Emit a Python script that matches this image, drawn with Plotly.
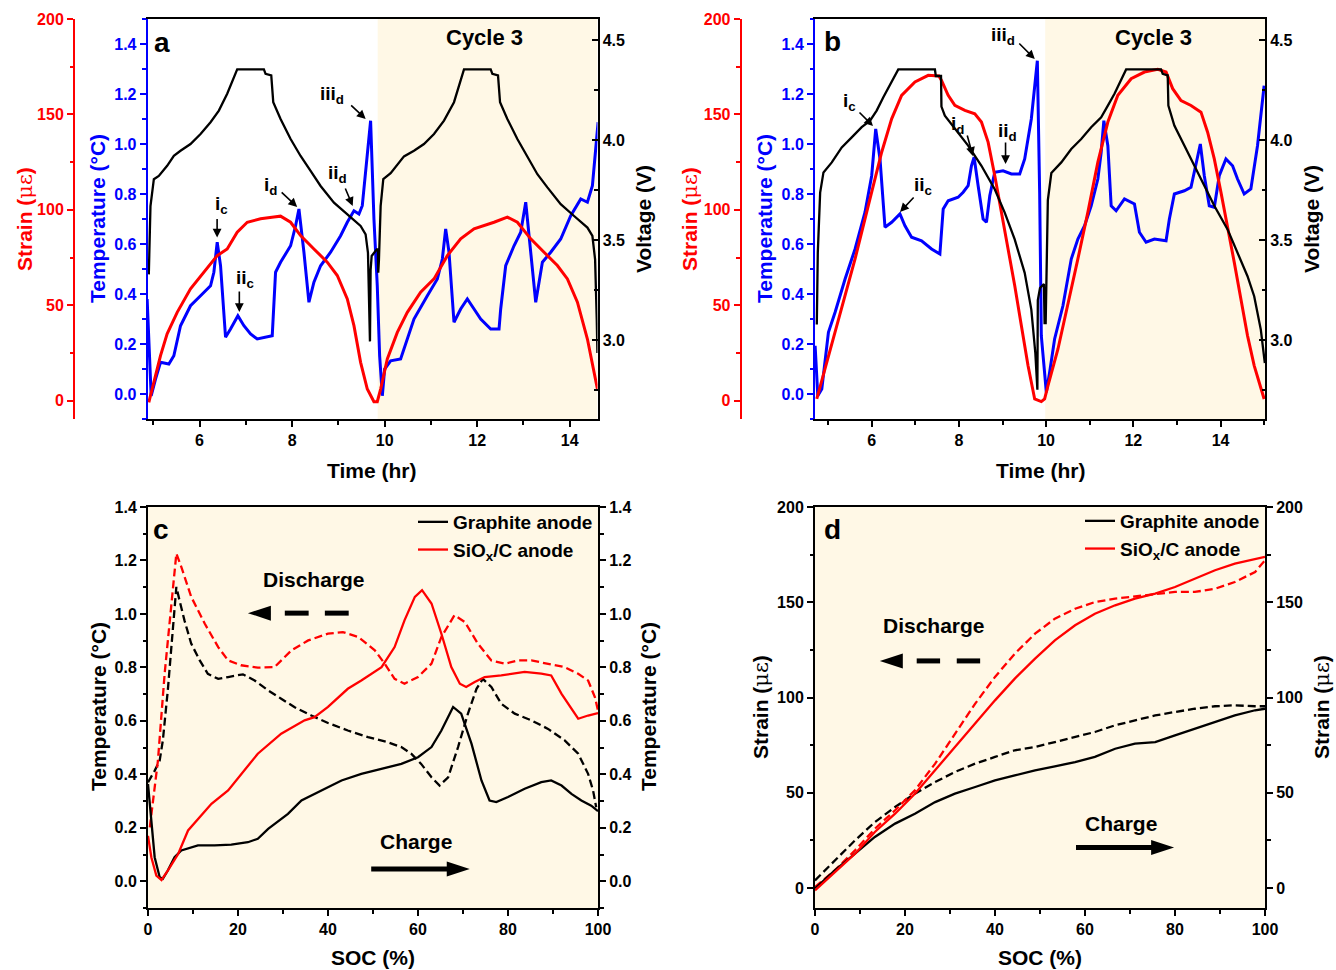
import plotly.graph_objects as go

# ---------------- data ----------------
# Panel a (graphite anode): (time hr, value)
A_VOLT = [(4.904, 3.328), (4.915, 3.50), (4.94, 3.67), (5.013, 3.804), (5.12, 3.82), (5.30, 3.871),
          (5.445, 3.921), (5.589, 3.946), (5.805, 3.98), (6.022, 4.03), (6.238, 4.089), (6.418, 4.147),
          (6.598, 4.231), (6.814, 4.353), (7.391, 4.353), (7.427, 4.331), (7.55, 4.323), (7.593, 4.189),
          (7.751, 4.105), (7.968, 4.005), (8.184, 3.92), (8.40, 3.846), (8.616, 3.77), (8.905, 3.687),
          (9.193, 3.629), (9.481, 3.57), (9.589, 3.528), (9.64, 3.436), (9.683, 2.993), (9.697, 3.35),
          (9.72, 3.42), (9.77, 3.436), (9.83, 3.453), (9.856, 3.453), (9.862, 3.336), (9.877, 3.40),
          (9.914, 3.67), (9.971, 3.804), (10.13, 3.834), (10.418, 3.918), (10.634, 3.946), (10.85, 3.98),
          (11.067, 4.03), (11.283, 4.097), (11.499, 4.189), (11.715, 4.353), (12.292, 4.353), (12.328, 4.331),
          (12.45, 4.323), (12.494, 4.189), (12.652, 4.105), (12.868, 4.005), (13.085, 3.913), (13.301, 3.829),
          (13.517, 3.763), (13.805, 3.679), (14.094, 3.62), (14.382, 3.562), (14.49, 3.52), (14.548, 3.403),
          (14.584, 3.10), (14.598, 2.935)]
A_STRAIN = [(4.904, -0.9), (5.013, 9.6), (5.157, 23.6), (5.30, 35.0), (5.517, 46.3), (5.805, 58.6),
            (6.094, 67.3), (6.382, 76.0), (6.598, 79.5), (6.814, 88.3), (7.031, 93.5), (7.319, 95.3),
            (7.607, 96.2), (7.751, 96.7), (7.968, 93.5), (8.184, 86.5), (8.472, 79.5), (8.76, 72.6),
            (8.977, 65.6), (9.193, 53.3), (9.337, 39.3), (9.481, 20.1), (9.625, 6.1), (9.769, -0.5),
            (9.841, -0.5), (9.914, 6.1), (10.058, 21.9), (10.274, 35.8), (10.49, 46.3), (10.778, 56.8),
            (11.067, 63.8), (11.355, 76.0), (11.643, 84.8), (11.932, 90.0), (12.364, 93.5), (12.652, 96.2),
            (12.868, 93.5), (13.157, 84.8), (13.445, 77.8), (13.733, 70.8), (13.95, 63.8), (14.166, 51.6),
            (14.382, 32.3), (14.598, 6.1)]
A_TEMP = [(4.868, 0.38), (4.955, -0.007), (5.049, 0.06), (5.157, 0.127), (5.337, 0.12), (5.445, 0.153),
          (5.589, 0.273), (5.805, 0.353), (6.022, 0.393), (6.166, 0.42), (6.238, 0.433), (6.31, 0.487),
          (6.382, 0.607), (6.454, 0.513), (6.562, 0.227), (6.67, 0.26), (6.829, 0.313), (6.959, 0.273),
          (7.103, 0.24), (7.247, 0.22), (7.463, 0.227), (7.571, 0.233), (7.643, 0.487), (7.751, 0.527),
          (7.968, 0.593), (8.076, 0.673), (8.148, 0.74), (8.256, 0.567), (8.364, 0.367), (8.472, 0.447),
          (8.616, 0.513), (8.832, 0.567), (9.049, 0.633), (9.193, 0.687), (9.337, 0.733), (9.445, 0.72),
          (9.517, 0.753), (9.625, 0.967), (9.697, 1.093), (9.769, 0.70), (9.841, 0.433), (9.892, 0.153),
          (9.95, -0.007), (10.0, 0.10), (10.13, 0.133), (10.346, 0.14), (10.634, 0.30), (10.923, 0.393),
          (11.139, 0.46), (11.247, 0.54), (11.319, 0.66), (11.391, 0.567), (11.499, 0.287), (11.643, 0.34),
          (11.787, 0.38), (11.932, 0.34), (12.076, 0.30), (12.292, 0.26), (12.472, 0.26), (12.508, 0.34),
          (12.616, 0.513), (12.796, 0.593), (12.941, 0.647), (13.049, 0.767), (13.157, 0.567), (13.265, 0.367),
          (13.409, 0.527), (13.589, 0.567), (13.805, 0.62), (14.022, 0.713), (14.238, 0.78), (14.382, 0.767),
          (14.49, 0.833), (14.613, 1.087)]

# Panel b (SiOx/C anode)
B_VOLT = [(4.741, 3.077), (4.764, 3.436), (4.818, 3.737), (4.894, 3.838), (5.085, 3.888), (5.313, 3.963),
          (5.542, 4.013), (5.771, 4.064), (5.962, 4.097), (6.114, 4.147), (6.267, 4.214), (6.42, 4.273),
          (6.61, 4.353), (7.45, 4.353), (7.47, 4.32), (7.59, 4.32), (7.60, 4.167), (7.678, 4.122),
          (7.907, 4.055), (8.212, 3.972), (8.517, 3.871), (8.822, 3.754), (9.051, 3.637), (9.28, 3.503),
          (9.509, 3.336), (9.661, 3.152), (9.753, 2.935), (9.80, 2.751), (9.81, 3.20), (9.86, 3.26),
          (9.95, 3.28), (9.965, 3.085), (9.99, 3.085), (10.04, 3.70), (10.12, 3.835), (10.348, 3.888),
          (10.577, 3.955), (10.805, 4.005), (11.034, 4.064), (11.263, 4.114), (11.416, 4.172), (11.568, 4.231),
          (11.835, 4.353), (12.636, 4.353), (12.674, 4.331), (12.789, 4.323), (12.804, 4.172), (12.941, 4.072),
          (13.17, 3.972), (13.399, 3.871), (13.628, 3.771), (13.857, 3.671), (14.162, 3.553), (14.39, 3.436),
          (14.619, 3.319), (14.772, 3.219), (14.924, 3.052), (15.016, 2.885)]
B_STRAIN = [(4.741, 0.9), (5.008, 23.6), (5.313, 48.1), (5.619, 74.3), (5.924, 102.3), (6.229, 130.2),
            (6.458, 147.7), (6.686, 160.0), (6.992, 167.0), (7.297, 170.5), (7.541, 170.1), (7.602, 167.8),
            (7.754, 160.0), (7.907, 154.7), (8.136, 152.1), (8.365, 150.3), (8.517, 146.0), (8.67, 135.5),
            (8.822, 118.0), (8.975, 98.8), (9.127, 81.3), (9.28, 60.3), (9.433, 39.3), (9.585, 18.4),
            (9.738, 0.9), (9.89, -0.5), (9.966, 0.9), (10.043, 7.9), (10.272, 27.1), (10.5, 49.8),
            (10.729, 74.3), (10.958, 98.8), (11.187, 125.0), (11.416, 146.0), (11.645, 160.0), (11.95, 168.7),
            (12.255, 172.2), (12.56, 173.6), (12.751, 172.2), (12.903, 163.5), (13.094, 157.3), (13.323, 154.7),
            (13.552, 151.2), (13.704, 140.7), (13.857, 126.7), (14.009, 109.3), (14.162, 91.8), (14.314, 72.6),
            (14.467, 53.3), (14.619, 34.1), (14.772, 18.4), (15.0, 0.9)]
B_TEMP = [(4.703, 0.193), (4.764, -0.007), (4.856, 0.02), (5.008, 0.247), (5.161, 0.327), (5.39, 0.46),
          (5.619, 0.58), (5.847, 0.727), (6.0, 0.873), (6.092, 1.06), (6.191, 0.94), (6.305, 0.667),
          (6.458, 0.687), (6.648, 0.72), (6.763, 0.673), (6.915, 0.627), (7.144, 0.613), (7.373, 0.58),
          (7.564, 0.56), (7.64, 0.74), (7.754, 0.773), (7.983, 0.787), (8.098, 0.807), (8.212, 0.833),
          (8.288, 0.913), (8.349, 0.947), (8.441, 0.833), (8.555, 0.70), (8.632, 0.687), (8.708, 0.793),
          (8.822, 0.887), (9.013, 0.893), (9.204, 0.88), (9.394, 0.88), (9.509, 0.94), (9.661, 1.10),
          (9.799, 1.333), (9.852, 0.807), (9.89, 0.233), (9.951, 0.113), (10.005, 0.007), (10.081, 0.087),
          (10.195, 0.22), (10.386, 0.353), (10.577, 0.54), (10.729, 0.62), (10.882, 0.673), (11.034, 0.753),
          (11.187, 0.86), (11.263, 0.967), (11.324, 1.093), (11.416, 0.993), (11.492, 0.753), (11.606, 0.733),
          (11.797, 0.78), (12.026, 0.76), (12.14, 0.647), (12.293, 0.607), (12.484, 0.62), (12.751, 0.613),
          (12.827, 0.70), (12.941, 0.80), (13.17, 0.813), (13.323, 0.827), (13.437, 0.913), (13.537, 1.0),
          (13.628, 0.873), (13.742, 0.753), (13.857, 0.747), (13.971, 0.873), (14.124, 0.94), (14.276, 0.913),
          (14.39, 0.86), (14.543, 0.80), (14.696, 0.82), (14.848, 0.993), (15.0, 1.233)]

# Panel c: (SOC %, temperature change)
C_GR_CH = [(0, 0.364), (0.74, 0.215), (1.48, 0.09), (2.6, 0.015), (3.3, 0.009), (4.4, 0.04), (5.9, 0.09),
           (7.4, 0.115), (11.1, 0.134), (14.8, 0.134), (18.5, 0.137), (22.2, 0.146), (24.4, 0.159),
           (26.7, 0.196), (31.1, 0.252), (34.1, 0.302), (38.5, 0.34), (43.0, 0.377), (47.4, 0.402),
           (51.9, 0.421), (56.3, 0.439), (60.0, 0.464), (63.0, 0.502), (65.2, 0.564), (67.8, 0.652),
           (69.6, 0.627), (71.9, 0.514), (74.1, 0.377), (75.9, 0.302), (77.4, 0.296), (80.0, 0.315),
           (83.7, 0.346), (87.4, 0.371), (89.6, 0.377), (91.9, 0.358), (94.1, 0.327), (96.3, 0.302),
           (98.5, 0.283), (100, 0.262)]
C_GR_DIS = [(0, 0.37), (1.5, 0.414), (2.6, 0.452), (3.3, 0.527), (4.4, 0.714), (5.6, 0.964), (6.3, 1.101),
            (7.0, 1.051), (8.1, 0.976), (9.6, 0.889), (11.5, 0.826), (13.3, 0.776), (15.6, 0.757),
            (17.8, 0.764), (21.1, 0.774), (23.7, 0.751), (26.7, 0.714), (29.6, 0.683), (32.6, 0.651),
            (36.3, 0.62), (40.0, 0.592), (44.4, 0.564), (48.9, 0.539), (53.3, 0.52), (56.3, 0.502),
            (58.5, 0.477), (60.7, 0.439), (63.0, 0.389), (64.8, 0.358), (66.7, 0.389), (68.9, 0.502),
            (71.1, 0.627), (73.0, 0.72), (74.4, 0.757), (76.3, 0.727), (78.5, 0.664), (81.5, 0.627),
            (85.2, 0.602), (88.9, 0.57), (92.6, 0.527), (95.6, 0.477), (97.8, 0.402), (98.9, 0.34),
            (99.6, 0.277)]
C_SI_CH = [(0, 0.17), (0.74, 0.09), (1.85, 0.021), (3.0, 0.005), (4.4, 0.04), (6.7, 0.102), (8.9, 0.19),
           (11.1, 0.233), (14.1, 0.29), (17.8, 0.34), (20.7, 0.402), (24.4, 0.477), (29.6, 0.552),
           (34.8, 0.602), (37.0, 0.614), (40.0, 0.652), (44.4, 0.72), (47.4, 0.751), (51.9, 0.801),
           (54.8, 0.876), (57.0, 0.976), (59.3, 1.064), (60.9, 1.089), (63.0, 1.039), (65.2, 0.926),
           (67.4, 0.801), (69.3, 0.739), (70.7, 0.727), (72.6, 0.745), (74.8, 0.764), (78.5, 0.77),
           (83.7, 0.783), (87.4, 0.777), (89.6, 0.77), (91.9, 0.701), (94.1, 0.645), (95.6, 0.608),
           (97.8, 0.62), (100, 0.629)]
C_SI_DIS = [(0.4, 0.202), (2.2, 0.45), (3.7, 0.777), (5.2, 1.027), (6.3, 1.226), (7.4, 1.176), (9.6, 1.064),
            (12.6, 0.964), (15.6, 0.876), (17.8, 0.826), (20.7, 0.808), (24.4, 0.799), (28.1, 0.801),
            (31.9, 0.864), (35.6, 0.901), (40.0, 0.926), (43.3, 0.932), (46.7, 0.914), (50.4, 0.864),
            (52.6, 0.814), (54.8, 0.757), (57.0, 0.739), (60.0, 0.764), (63.0, 0.814), (65.2, 0.914),
            (68.1, 0.995), (70.4, 0.97), (73.3, 0.889), (76.3, 0.826), (79.3, 0.814), (82.2, 0.826),
            (85.2, 0.826), (88.9, 0.814), (92.6, 0.801), (95.6, 0.776), (97.8, 0.751), (99.3, 0.689),
            (100, 0.639)]

# Panel d: (SOC %, strain)
D_GR_CH = [(0, -0.3), (4.4, 9.3), (8.9, 18.0), (13.3, 26.8), (17.8, 33.8), (22.2, 39.0), (26.7, 45.1),
           (31.1, 49.5), (35.6, 53.0), (40.0, 56.5), (44.4, 59.1), (48.9, 61.8), (53.3, 63.9), (57.8, 66.1),
           (62.2, 68.8), (66.7, 73.1), (71.1, 75.8), (75.6, 76.6), (80.0, 80.1), (84.4, 83.6), (88.9, 87.1),
           (93.3, 90.6), (97.8, 93.3), (100, 94.1)]
D_GR_DIS = [(0, 4.0), (4.4, 14.5), (8.9, 25.0), (13.3, 34.6), (17.8, 42.5), (22.2, 49.5), (26.7, 55.6),
            (31.1, 60.9), (35.6, 65.3), (40.0, 68.8), (44.4, 72.3), (48.9, 74.0), (53.3, 76.6), (57.8, 79.3),
            (62.2, 81.9), (66.7, 85.4), (71.1, 88.0), (75.6, 90.6), (80.0, 92.4), (84.4, 94.1), (88.9, 95.4),
            (93.3, 95.9), (97.8, 95.4), (100, 95.4)]
D_SI_CH = [(0, -1.2), (4.4, 8.4), (8.9, 18.0), (13.3, 29.4), (17.8, 39.0), (22.2, 49.5), (26.7, 61.8),
           (31.1, 74.0), (35.6, 86.3), (40.0, 98.5), (44.4, 109.9), (48.9, 120.4), (53.3, 130.0),
           (57.8, 137.9), (62.2, 144.0), (66.7, 148.4), (71.1, 151.9), (75.6, 154.5), (80.0, 158.0),
           (84.4, 162.4), (88.9, 166.8), (93.3, 170.3), (97.8, 172.9), (100, 173.8)]
D_SI_DIS = [(0, 0.5), (4.4, 9.3), (8.9, 19.8), (13.3, 31.1), (17.8, 40.8), (22.2, 51.3), (26.7, 65.3),
            (31.1, 81.0), (35.6, 96.8), (40.0, 110.8), (44.4, 123.0), (48.9, 133.5), (53.3, 141.4),
            (57.8, 146.6), (62.2, 150.1), (66.7, 151.9), (71.1, 153.1), (75.6, 154.2), (80.0, 155.4),
            (84.4, 155.4), (88.9, 157.1), (93.3, 160.6), (97.8, 165.9), (100, 172.0)]

CYCLE3_START_A = 9.85
CYCLE3_START_B = 9.98
XRANGE_A = [4.88, 14.6]
XRANGE_B = [4.70, 15.02]

# ---------------- styling ----------------
FONT = "Liberation Sans, Arial, Helvetica, sans-serif"
RED, BLUE, BLACK = "#FF0000", "#0000FF", "#000000"
CREAM = "#FFF8E6"
W, H = 1336, 970


def px2x(px):
    return px / W


def py2y(py):
    return 1 - py / H


def xy(pairs):
    return [p[0] for p in pairs], [p[1] for p in pairs]


def ax_style(color, dtick, minor_dtick, ticks="outside", fmt=None, **kw):
    d = dict(showline=True, linecolor=color, linewidth=2, ticks=ticks, ticklen=6, tickwidth=2,
             tickcolor=color, tickfont=dict(family=FONT, size=16, color=color, weight="bold"),
             showgrid=False, zeroline=False, dtick=dtick, tick0=0, automargin=False,
             minor=dict(dtick=minor_dtick, ticks=ticks, ticklen=3.5, tickwidth=1.5, tickcolor=color,
                        showgrid=False))
    if fmt:
        d["tickformat"] = fmt
    d.update(kw)
    return d


fig = go.Figure()


def line(pairs, xa, ya, color, width=3, dash="solid", name=None, legend=None):
    x, y = xy(pairs)
    tr = dict(x=x, y=y, xaxis=xa, yaxis=ya, mode="lines",
              line=dict(color=color, width=width, dash=dash), hoverinfo="skip",
              showlegend=name is not None)
    if name is not None:
        tr["name"] = name
        tr["legend"] = legend
    fig.add_trace(go.Scatter(**tr))


# Panel a
line(A_TEMP, "x", "y", BLUE)
line(A_STRAIN, "x", "y2", RED)
line(A_VOLT, "x", "y3", BLACK, width=2.3)
# Panel b
line(B_TEMP, "x2", "y4", BLUE)
line(B_STRAIN, "x2", "y5", RED)
line(B_VOLT, "x2", "y6", BLACK, width=2.3)
# Panel c
DASH = "8px,4px"
line(C_GR_DIS, "x3", "y7", BLACK, 2.3, DASH)
line(C_SI_DIS, "x3", "y7", RED, 2.3, DASH)
line(C_GR_CH, "x3", "y7", BLACK, 2.3, name="Graphite anode", legend="legend")
line(C_SI_CH, "x3", "y7", RED, 2.3, name="SiO<sub>x</sub>/C anode", legend="legend")
# Panel d
line(D_GR_DIS, "x4", "y9", BLACK, 2.3, DASH)
line(D_SI_DIS, "x4", "y9", RED, 2.3, DASH)
line(D_GR_CH, "x4", "y9", BLACK, 2.3, name="Graphite anode", legend="legend2")
line(D_SI_CH, "x4", "y9", RED, 2.3, name="SiO<sub>x</sub>/C anode", legend="legend2")
# invisible traces so the mirrored right axes of c and d are drawn
for pairs, xa, ya in [(C_GR_CH, "x3", "y8"), (D_GR_CH, "x4", "y10")]:
    x, y = xy(pairs)
    fig.add_trace(go.Scatter(x=x, y=y, xaxis=xa, yaxis=ya, mode="lines", opacity=0,
                             line=dict(width=0), showlegend=False, hoverinfo="skip"))

TOP_DOM = [py2y(419), py2y(19)]
BOT_DOM = [py2y(908), py2y(507)]
XA_DOM = [px2x(147.7), px2x(597.5)]
XB_DOM = [px2x(815), px2x(1265)]
XC_DOM = [px2x(148), px2x(598)]

LEG_FONT = dict(family=FONT, size=19, color="black", weight="bold")
layout = dict(
    width=W, height=H, margin=dict(l=0, r=0, t=0, b=0),
    paper_bgcolor="white", plot_bgcolor="white",
    font=dict(family=FONT, color="black"),
    xaxis=ax_style(BLACK, 2, 1, domain=XA_DOM, range=XRANGE_A, anchor="y", mirror=True),
    yaxis=ax_style(BLUE, 0.2, 0.1, fmt=".1f", domain=TOP_DOM, range=[-0.1, 1.5], anchor="x"),
    yaxis2=ax_style(RED, 50, 25, overlaying="y", anchor="free", position=px2x(74), range=[-9.6, 200]),
    yaxis3=ax_style(BLACK, 0.5, 0.25, ticks="inside", fmt=".1f", overlaying="y", side="right",
                    anchor="x", range=[2.605, 4.605]),
    xaxis2=ax_style(BLACK, 2, 1, domain=XB_DOM, range=XRANGE_B, anchor="y4", mirror=True),
    yaxis4=ax_style(BLUE, 0.2, 0.1, fmt=".1f", domain=TOP_DOM, range=[-0.1, 1.5], anchor="x2"),
    yaxis5=ax_style(RED, 50, 25, overlaying="y4", anchor="free", position=px2x(740.7), range=[-9.6, 200]),
    yaxis6=ax_style(BLACK, 0.5, 0.25, ticks="inside", fmt=".1f", overlaying="y4", side="right",
                    anchor="x2", range=[2.605, 4.605]),
    xaxis3=ax_style(BLACK, 20, 10, domain=XC_DOM, range=[0, 100], anchor="y7", mirror=True),
    yaxis7=ax_style(BLACK, 0.2, 0.1, fmt=".1f", domain=BOT_DOM, range=[-0.1, 1.4], anchor="x3"),
    yaxis8=ax_style(BLACK, 0.2, 0.1, fmt=".1f", overlaying="y7", side="right", anchor="x3",
                    range=[-0.1, 1.4]),
    xaxis4=ax_style(BLACK, 20, 10, domain=XB_DOM, range=[0, 100], anchor="y9", mirror=True),
    yaxis9=ax_style(BLACK, 50, 25, domain=BOT_DOM, range=[-10.5, 200], anchor="x4"),
    yaxis10=ax_style(BLACK, 50, 25, overlaying="y9", side="right", anchor="x4", range=[-10.5, 200]),
    legend=dict(x=px2x(413), y=py2y(503), xanchor="left", yanchor="top", bgcolor="rgba(0,0,0,0)",
                font=LEG_FONT, tracegroupgap=0),
    legend2=dict(x=px2x(1080), y=py2y(502), xanchor="left", yanchor="top", bgcolor="rgba(0,0,0,0)",
                 font=LEG_FONT, tracegroupgap=0),
)
fig.update_layout(**layout)

# ---------------- shapes ----------------
shapes = [
    dict(type="rect", xref="x", yref="y domain", x0=CYCLE3_START_A, x1=XRANGE_A[1], y0=0, y1=1,
         fillcolor=CREAM, line=dict(width=0), layer="below"),
    dict(type="rect", xref="x2", yref="y4 domain", x0=CYCLE3_START_B, x1=XRANGE_B[1], y0=0, y1=1,
         fillcolor=CREAM, line=dict(width=0), layer="below"),
    dict(type="rect", xref="x3 domain", yref="y7 domain", x0=0, x1=1, y0=0, y1=1,
         fillcolor=CREAM, line=dict(width=0), layer="below"),
    dict(type="rect", xref="x4 domain", yref="y9 domain", x0=0, x1=1, y0=0, y1=1,
         fillcolor=CREAM, line=dict(width=0), layer="below"),
]


def head(xr, yr, x, y, direction):
    s = 1 if direction == "right" else -1
    return dict(type="path", xref=xr, yref=yr, xsizemode="pixel", ysizemode="pixel",
                xanchor=x, yanchor=y, path=f"M0,0 L{-23 * s},7.5 L{-23 * s},-7.5 Z",
                fillcolor=BLACK, line=dict(width=0), layer="above")


def seg(xr, yr, x0, x1, y):
    return dict(type="line", xref=xr, yref=yr, x0=x0, x1=x1, y0=y, y1=y,
                line=dict(color=BLACK, width=5), layer="above")


# panel c arrows
shapes += [seg("x3", "y7", 49.6, 66.6, 0.046), head("x3", "y7", 71.5, 0.046, "right"),
           head("x3", "y7", 22.2, 1.003, "left"), seg("x3", "y7", 30.4, 35.7, 1.003),
           seg("x3", "y7", 39.3, 44.6, 1.003)]
# panel d arrows
shapes += [seg("x4", "y9", 58.0, 74.9, 21.2), head("x4", "y9", 79.8, 21.2, "right"),
           head("x4", "y9", 14.4, 119.2, "left"), seg("x4", "y9", 22.6, 27.8, 119.2),
           seg("x4", "y9", 31.5, 36.7, 119.2)]
fig.update_layout(shapes=shapes)

# ---------------- annotations ----------------
ann = []


def txt(text, x, y, xref="paper", yref="paper", size=21, color=BLACK, angle=0, **kw):
    d = dict(text=text, x=x, y=y, xref=xref, yref=yref, showarrow=False, textangle=angle,
             font=dict(family=FONT, size=size, color=color, weight="bold"),
             xanchor="center", yanchor="middle")
    d.update(kw)
    ann.append(d)


def arrow(x, y, ax, ay, xref, yref):
    ann.append(dict(text="", x=x, y=y, xref=xref, yref=yref, ax=ax, ay=ay, axref="pixel", ayref="pixel",
                    showarrow=True, arrowhead=2, arrowsize=1.1, arrowwidth=1.6, arrowcolor=BLACK))


MU = "<span style='font-weight:normal;font-family:DejaVu Serif'>με</span>"
STRAIN_T = f"Strain ({MU})"
# axis titles (panels a, b)
for xs, xt, xv, xc in [(25, 98, 644, 372), (690, 765, 1312, 1040)]:
    txt(STRAIN_T, px2x(xs), py2y(219), color=RED, angle=-90)
    txt("Temperature (°C)", px2x(xt), py2y(219), color=BLUE, angle=-90)
    txt("Voltage (V)", px2x(xv), py2y(219), angle=-90)
    txt("Time (hr)", px2x(xc), py2y(470))
# axis titles (panels c, d)
txt("Temperature (°C)", px2x(98), py2y(707), angle=-90)
txt("Temperature (°C)", px2x(648), py2y(707), angle=-90)
txt("SOC (%)", px2x(373), py2y(957))
txt(STRAIN_T, px2x(761), py2y(707), angle=-90)
txt(STRAIN_T, px2x(1322), py2y(707), angle=-90)
txt("SOC (%)", px2x(1040), py2y(957))

# panel letters & cycle labels
txt("a", px2x(162), py2y(43), size=28)
txt("b", px2x(832), py2y(42), size=28)
txt("c", px2x(160.5), py2y(529), size=28)
txt("d", px2x(832), py2y(529), size=28)
txt("Cycle 3", 12.16, 0.955, xref="x", yref="y domain", size=22)
txt("Cycle 3", 12.46, 0.955, xref="x2", yref="y4 domain", size=22)

# c / d text
txt("Discharge", 36.8, 1.127, xref="x3", yref="y7", size=21)
txt("Charge", 59.6, 0.15, xref="x3", yref="y7", size=21)
txt("Discharge", 26.4, 138, xref="x4", yref="y9", size=21)
txt("Charge", 68.0, 34, xref="x4", yref="y9", size=21)

# peak labels
A_LABELS = [("i<sub>c</sub>", 6.47, 0.757, 6.38, 0.626, 0, -20),
            ("ii<sub>c</sub>", 6.99, 0.46, 6.86, 0.328, 0, -22),
            ("i<sub>d</sub>", 7.53, 0.832, 8.11, 0.748, -17, -16),
            ("ii<sub>d</sub>", 8.98, 0.88, 9.31, 0.752, -8, -19),
            ("iii<sub>d</sub>", 8.87, 1.196, 9.59, 1.10, -16, -15)]
B_LABELS = [("i<sub>c</sub>", 5.50, 1.168, 6.03, 1.072, -15, -15),
            ("ii<sub>c</sub>", 7.17, 0.832, 6.65, 0.728, 15, -16),
            ("i<sub>d</sub>", 7.97, 1.076, 8.32, 0.952, -6, -22),
            ("ii<sub>d</sub>", 9.12, 1.048, 9.07, 0.92, 0, -23),
            ("iii<sub>d</sub>", 9.0, 1.432, 9.74, 1.34, -17, -17)]
for labels, xr, yr in [(A_LABELS, "x", "y"), (B_LABELS, "x2", "y4")]:
    for text, tx, ty, hx, hy, dx, dy in labels:
        txt(text, tx, ty, xref=xr, yref=yr, size=19)
        arrow(hx, hy, dx, dy, xr, yr)

fig.update_layout(annotations=ann)
# remove the default 8px page margin so the figure fills the 1336x970 window exactly
fig.write_html("out.html", config={"displayModeBar": False},
               post_script="document.body.style.margin='0px';document.body.style.overflow='hidden';")
